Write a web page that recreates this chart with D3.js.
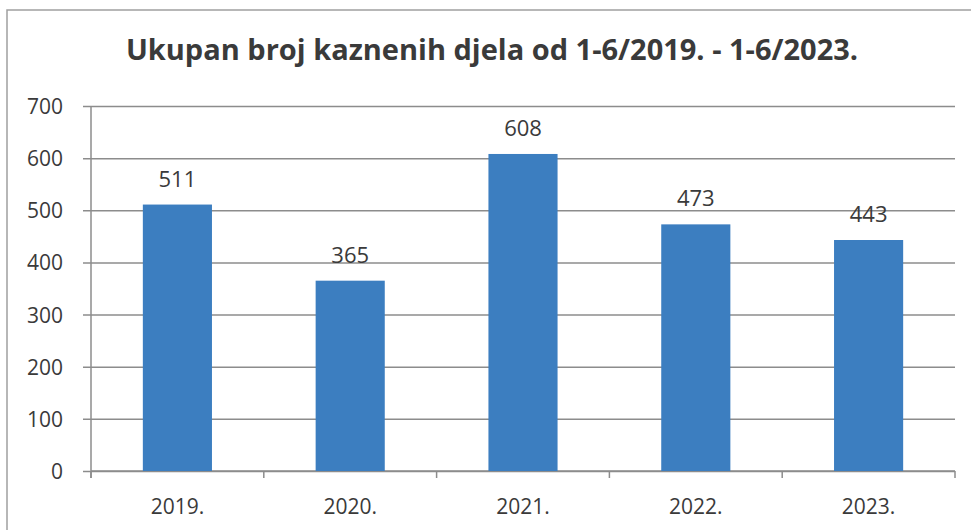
<!DOCTYPE html>
<html>
<head>
<meta charset="utf-8">
<script src="https://cdn.jsdelivr.net/npm/d3@7"></script>
<style>
  body { margin: 0; background: #fff; }
  text { font-family: "Open Sans", sans-serif; fill: #3a3a3a; }
</style>
</head>
<body>
<div id="chart"></div>
<script>
var years = ["2019.", "2020.", "2021.", "2022.", "2023."];
var counts = [511, 365, 608, 473, 443];
var yTicks = [0, 100, 200, 300, 400, 500, 600, 700];
var title = "Ukupan broj kaznenih djela od 1-6/2019. - 1-6/2023.";

var wide = 971;
var high = 530;
var plotLeft = 91, plotRight = 955, plotTop = 106, plotBottom = 471;

var svg = d3.select("#chart").append("svg")
  .attr("width", wide)
  .attr("height", high);

// frame of the chart box
svg.append("path")
  .attr("d", "M7," + high + "V10H" + wide)
  .attr("fill", "none")
  .attr("stroke", "#a0a0a0")
  .attr("stroke-width", 1.5);

svg.append("text")
  .attr("x", 492)
  .attr("y", 60)
  .attr("text-anchor", "middle")
  .attr("font-size", 29)
  .attr("font-weight", "bold")
  .text(title);

var x = d3.scaleBand()
  .domain(years)
  .range([plotLeft, plotRight])
  .paddingInner(0.6)
  .paddingOuter(0.3);

var y = d3.scaleLinear()
  .domain([0, 700])
  .range([plotBottom, plotTop]);

// gridlines + y axis
var yAxis = d3.axisLeft(y)
  .tickValues(yTicks)
  .tickSize(-(plotRight - plotLeft));

var gy = svg.append("g")
  .attr("transform", "translate(" + plotLeft + ",0)")
  .call(yAxis);
gy.select(".domain").remove();
gy.selectAll(".tick line")
  .attr("x1", -8)
  .attr("stroke", "#8c8c8c")
  .attr("stroke-width", 1.5);
gy.selectAll(".tick text")
  .attr("font-size", 21)
  .attr("x", -28)
  .attr("dy", "0.36em");

svg.append("line")
  .attr("x1", plotLeft).attr("x2", plotLeft)
  .attr("y1", plotTop).attr("y2", plotBottom + 7)
  .attr("stroke", "#8c8c8c")
  .attr("stroke-width", 1.5);

// x axis
var xAxis = d3.axisBottom(x).tickSize(0).tickPadding(28);
var gx = svg.append("g")
  .attr("transform", "translate(0," + plotBottom + ")")
  .call(xAxis);
gx.select(".domain").remove();
gx.selectAll(".tick text").attr("font-size", 21);

svg.append("line")
  .attr("x1", plotLeft).attr("x2", plotRight)
  .attr("y1", plotBottom).attr("y2", plotBottom)
  .attr("stroke", "#8c8c8c")
  .attr("stroke-width", 1.5);

var step = x.step();
svg.selectAll(".catTick")
  .data(d3.range(years.length + 1))
  .enter()
  .append("line")
  .attr("class", "catTick")
  .attr("x1", function(i) { return plotLeft + i * step; })
  .attr("x2", function(i) { return plotLeft + i * step; })
  .attr("y1", plotBottom)
  .attr("y2", plotBottom + 7)
  .attr("stroke", "#8c8c8c")
  .attr("stroke-width", 1.5);

// bars
svg.selectAll(".bar")
  .data(counts)
  .enter()
  .append("rect")
  .attr("class", "bar")
  .attr("x", function(d, i) { return x(years[i]); })
  .attr("y", function(d) { return y(d); })
  .attr("width", x.bandwidth())
  .attr("height", function(d) { return plotBottom - y(d); })
  .attr("fill", "#3c7ec0");

svg.selectAll(".val")
  .data(counts)
  .enter()
  .append("text")
  .attr("class", "val")
  .attr("x", function(d, i) { return x(years[i]) + x.bandwidth() / 2; })
  .attr("y", function(d) { return y(d) - 18; })
  .attr("text-anchor", "middle")
  .attr("font-size", 22)
  .text(function(d) { return d; });
</script>
</body>
</html>
